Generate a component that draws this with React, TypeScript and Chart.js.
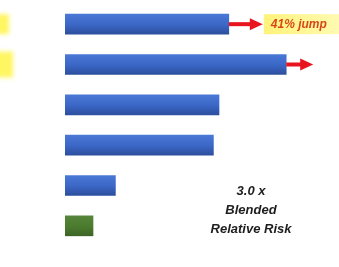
import React, { useEffect, useRef } from "react";
import { Chart, registerables } from "chart.js";

Chart.register(...registerables);

const categories = ["Group 1", "Group 2", "Group 3", "Group 4", "Group 5", "Group 6"];
const riskValues = [5.85, 7.9, 5.5, 5.3, 1.8, 1.0];
const barColors = ["blue", "blue", "blue", "blue", "blue", "green"];
const jumpLabel = "41% jump";
const noteLines = ["3.0 x", "Blended", "Relative Risk"];

const annotationPlugin = {
  id: "annotations",
  beforeDraw(chart: any) {
    const ctx = chart.ctx;
    ctx.save();
    ctx.fillStyle = "#ffffff";
    ctx.fillRect(0, 0, chart.width, chart.height);
    const meta = chart.getDatasetMeta(0);
    ctx.filter = "blur(2px)";
    ctx.fillStyle = "rgba(255,246,90,0.95)";
    const y0 = meta.data[0].y;
    const y1 = meta.data[1].y;
    ctx.fillRect(-4, y0 - 10, 13, 20);
    ctx.fillRect(-4, y1 - 13, 17, 26);
    ctx.filter = "none";
    ctx.restore();
  },
  afterDatasetsDraw(chart: any) {
    const ctx = chart.ctx;
    const meta = chart.getDatasetMeta(0);
    const arrow = (x0: number, x1: number, y: number) => {
      ctx.save();
      ctx.strokeStyle = "#e8141e";
      ctx.fillStyle = "#e8141e";
      ctx.lineWidth = 4;
      ctx.beginPath();
      ctx.moveTo(x0, y);
      ctx.lineTo(x1 - 10, y);
      ctx.stroke();
      ctx.beginPath();
      ctx.moveTo(x1, y);
      ctx.lineTo(x1 - 13, y - 6);
      ctx.lineTo(x1 - 13, y + 6);
      ctx.closePath();
      ctx.fill();
      ctx.restore();
    };
    const b0 = meta.data[0];
    const b1 = meta.data[1];
    arrow(b0.x, b0.x + 34, b0.y);
    arrow(b1.x, b1.x + 27, b1.y);

    ctx.save();
    const bx = b0.x + 35;
    const by = b0.y - 10;
    const g = ctx.createLinearGradient(bx, 0, bx + 75, 0);
    g.addColorStop(0, "#fff37a");
    g.addColorStop(1, "#fffab0");
    ctx.fillStyle = g;
    ctx.fillRect(bx, by, 80, 20);
    ctx.fillStyle = "#d8481a";
    ctx.font = "bold italic 12px 'Liberation Sans', sans-serif";
    ctx.textBaseline = "middle";
    ctx.fillText(jumpLabel, bx + 7, b0.y + 1);
    ctx.restore();

    ctx.save();
    ctx.fillStyle = "#1e1e1e";
    ctx.font = "bold italic 13px 'Liberation Sans', sans-serif";
    ctx.textAlign = "center";
    ctx.textBaseline = "middle";
    const cx = 251;
    const y5 = meta.data[4].y;
    noteLines.forEach((t, i) => ctx.fillText(t, cx, y5 + 6 + i * 19));
    ctx.restore();
  },
};

export default function App() {
  const ref = useRef<HTMLCanvasElement>(null);
  useEffect(() => {
    document.body.style.margin = "0";
    const canvas = ref.current!;
    const chart = new Chart(canvas, {
      type: "bar",
      data: {
        labels: categories,
        datasets: [
          {
            data: riskValues,
            backgroundColor: (c: any) => {
              const isGreen = barColors[c.dataIndex] === "green";
              const flat = isGreen ? "#4c7d2e" : "#3c68c8";
              const ys = c.chart.scales && c.chart.scales.y;
              if (!ys || c.dataIndex === undefined) return flat;
              const cy = ys.getPixelForValue(c.dataIndex);
              if (!isFinite(cy)) return flat;
              const top = cy - 10;
              const g = c.chart.ctx.createLinearGradient(0, top, 0, top + 20);
              if (isGreen) {
                g.addColorStop(0, "#55853a");
                g.addColorStop(0.5, "#4c7d2e");
                g.addColorStop(1, "#3d6426");
              } else {
                g.addColorStop(0, "#4a78d6");
                g.addColorStop(0.5, "#3c68c8");
                g.addColorStop(1, "#2c4f9e");
              }
              return g;
            },
            borderWidth: 0,
            barThickness: 20,
          },
        ],
      },
      options: {
        indexAxis: "y",
        animation: false,
        responsive: false,
        maintainAspectRatio: false,
        layout: { padding: { left: 65, right: 1, top: 4, bottom: 21 } },
        plugins: { legend: { display: false }, tooltip: { enabled: false } },
        scales: {
          x: { min: 0, max: 9.75, display: false },
          y: { display: false },
        },
      },
      plugins: [annotationPlugin],
    } as any);
    return () => chart.destroy();
  }, []);
  return (
    <div style={{ position: "absolute", left: 0, top: 0, width: 339, height: 267 }}>
      <canvas ref={ref} width={339} height={267} style={{ width: 339, height: 267 }} />
    </div>
  );
}
